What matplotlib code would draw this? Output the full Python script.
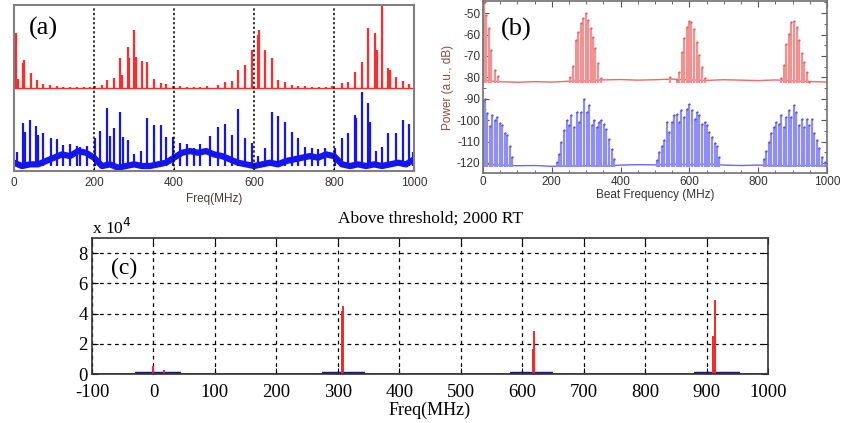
import numpy as np
import matplotlib
matplotlib.use("Agg")
import matplotlib.pyplot as plt
from matplotlib.ticker import MultipleLocator

plt.rcParams['axes.unicode_minus'] = False

# ---- panel (a): comb spectra, arbitrary units ----
red_a_freq = [5, 11, 22, 26, 42, 57, 73, 90, 107, 123, 140, 157, 174, 190, 203,
              219, 233, 251, 266, 271, 284, 288, 301, 305, 319, 333, 350, 367,
              381, 398, 415, 432, 449, 466, 483, 510, 527, 544, 561, 577, 594,
              609, 613, 627, 644, 661, 677, 694, 711, 728, 745, 762, 779, 796,
              819, 836, 852, 869, 886, 902, 907, 921, 936, 940, 954, 972, 988]
red_a_peak = [82.9, 55.7, 64.8, 66.8, 58.8, 54.7, 52.3, 51.7, 51.0, 50.8, 50.7,
              50.7, 50.6, 50.8, 51.0, 52.0, 55.0, 56.0, 68.0, 58.0, 74.8, 67.8,
              84.9, 68.8, 66.4, 65.4, 55.7, 53.3, 52.3, 51.5, 51.0, 50.8, 50.8,
              50.8, 51.0, 52.0, 53.8, 54.2, 60.9, 63.9, 72.9, 81.9, 84.9, 72.9,
              67.9, 54.8, 53.8, 51.8, 51.2, 51.0, 50.8, 50.8, 50.8, 51.0, 53.2,
              53.8, 59.8, 65.9, 85.9, 82.9, 72.9, 99.9, 61.9, 60.9, 56.5, 54.4,
              52.4]
red_a_base = 49.7

blue_a_freq = [7, 23, 27, 40, 55, 59, 73, 92, 108, 123, 140, 157, 165, 182, 202,
               215, 233, 240, 251, 266, 273, 284, 300, 318, 333, 350, 367, 381,
               398, 415, 432, 449, 466, 491, 510, 527, 544, 561, 577, 594, 610,
               627, 644, 661, 677, 694, 711, 727, 744, 760, 777, 803, 821, 836,
               852, 856, 869, 886, 890, 904, 921, 936, 954, 972, 988, 998]
blue_a_peak = [11.5, 29, 23.5, 31, 27, 21.5, 23, 20, 19, 15.5, 16, 15, 14.5, 15,
               20, 24, 38, 21, 26, 35.6, 20.5, 18.5, 10, 12, 32, 28, 28, 20.5,
               20.5, 17, 16, 14, 16, 21, 26.5, 28.3, 21.7, 37.2, 19.7, 16.7, 9,
               14, 35.8, 33.2, 29.8, 23.7, 19.7, 14.7, 14, 13, 14, 14, 19.7,
               23.1, 33.7, 31.7, 47.3, 40.8, 29.8, 12, 14.7, 22.7, 22.7, 30.8,
               28.3, 11.7]
# noise floor of the blue trace, read every 20 MHz
blue_a_noise = [5, 3, 4, 4, 6, 8, 10, 9, 12, 11, 8, 3, 4, 2, 3, 4, 3, 3, 4, 5,
                8, 11, 12, 11, 12, 10, 9, 7, 5, 4, 3, 4, 5, 4, 6, 7, 8, 9, 8,
                10, 9, 4, 3, 4, 3, 4, 3, 4, 5, 4, 7]

# ---- panel (b): beat spectra in dB ----
red_b_freq = [0, 3, 10, 16, 24, 34, 44,
              252, 262, 270, 277, 284, 291, 299, 306, 314, 320, 327, 335, 342,
              545, 563, 571, 578, 584, 592, 600, 606, 613, 621, 629, 636, 644,
              866, 874, 882, 889, 896, 904, 912, 918, 926, 933, 941, 948]
red_b_peak = [-44.5, -45.3, -50.8, -57.0, -67.0, -76.4, -79.5,
              -79.6, -74.9, -62.4, -58.6, -54.7, -52.3, -50.0, -53.1, -57.0,
              -60.9, -66.3, -73.3, -80.3,
              -80.0, -81.3, -77.4, -68.0, -61.8, -56.4, -53.6, -54.1, -57.2,
              -63.4, -69.6, -75.0, -80.5,
              -80.5, -74.3, -64.2, -59.5, -54.1, -53.6, -56.4, -62.6, -68.8,
              -72.7, -77.4, -82.0]
red_b_base = [-81.5, -82.0, -82.3, -82.0, -82.2, -81.8, -81.6, -81.2, -81.0,
              -81.3, -81.1, -80.8, -81.2, -81.4, -81.1, -81.3, -81.5, -81.2,
              -81.6, -81.9, -82.2]

blue_b_freq = [0, 5, 12, 19, 27, 34, 41, 49, 56, 63, 70, 78, 85,
               214, 221, 228, 235, 243, 250, 257, 265, 272, 280, 286, 293, 301,
               309, 316, 322, 330, 338, 344, 352, 359, 367, 374, 382,
               505, 512, 519, 526, 534, 541, 548, 555, 563, 570, 577, 584, 592,
               600, 607, 615, 621, 629, 636, 644, 651, 658, 665, 673, 680, 687,
               816, 823, 830, 838, 845, 852, 860, 867, 874, 882, 889, 896, 904,
               911, 918, 926, 933, 941, 948, 955, 962, 970, 977, 985, 993]
blue_b_peak = [-91, -90, -96.7, -102.9, -97.5, -99.8, -98.3, -101.4, -102.2,
               -106.0, -106.9, -112.3, -117.0,
               -119.4, -115.6, -110.1, -104.7, -100.0, -102.3, -97.7, -103.1,
               -96.1, -100.8, -96.1, -89.9, -96.1, -93.0, -102.3, -100.0,
               -103.1, -100.8, -100.0, -101.6, -103.9, -108.6, -113.3, -118.0,
               -118.4, -115.0, -112.3, -109.2, -100.8, -105.4, -100.8, -97.7,
               -96.9, -100.8, -95.4, -98.5, -94.6, -92.3, -95.4, -99.3, -96.2,
               -97.7, -101.6, -100.8, -102.3, -105.4, -107.7, -110.8, -112.3,
               -117.0,
               -118.0, -114.6, -110.0, -106.1, -103.0, -100.8, -101.6, -97.7,
               -103.0, -98.5, -95.4, -98.5, -93.0, -96.2, -102.3, -99.3,
               -103.0, -99.3, -102.3, -99.3, -106.1, -109.2, -113.1, -117.0,
               -119.4]
blue_b_base = [-120.5, -121.0, -121.3, -121.2, -121.6, -121.4, -121.3, -121.5,
               -121.0, -120.8, -120.9, -120.6, -120.8, -120.5, -121.0, -121.2,
               -121.0, -121.3, -121.4, -121.0, -121.5]

# ---- panel (c): above threshold, 2000 RT (x 1e4) ----
red_c_freq = [0, 17, 306, 309, 617, 620, 911, 913]
red_c_peak = [0.5, 0.25, 4.2, 4.5, 1.65, 2.85, 2.5, 4.9]
blue_c_freq = [-100, 1000]
blue_c_level = [0, 0]
dark_c_start = [-30, 275, 580, 880]
dark_c_stop = [45, 345, 650, 955]

W, H = 846, 423
fig = plt.figure(figsize=(W / 100, H / 100), dpi=100)


def box(l, t, r, b):
    return [l / W, 1 - b / H, (r - l) / W, (b - t) / H]


sans = 'Liberation Sans'
serif = 'Liberation Serif'

# panel (a)
ax = fig.add_axes(box(14, 5, 414, 171))
ax.plot(np.arange(0, 1001, 20), blue_a_noise, color='#1515f0', lw=4.5)
ax.vlines(blue_a_freq, 3, blue_a_peak, color='#1515f0', lw=1.6)
ax.plot([0, 1000], [red_a_base, red_a_base], color='#ff2a2a', lw=1.0)
ax.vlines(red_a_freq, red_a_base, red_a_peak, color='#ff2a2a', lw=1.6)
ax.set_xlim(0, 1000)
ax.set_ylim(0, 100)
ax.set_xticks(range(0, 1001, 200))
ax.set_yticks([])
for v in range(200, 1000, 200):
    ax.axvline(v, color='k', lw=1.1, ls=(0, (1.5, 1.5)))
ax.tick_params(axis='x', direction='in', length=3, labelsize=8.5,
               labelcolor='#3a3030', pad=4)
for s in ax.spines.values():
    s.set_color('#808080')
    s.set_linewidth(1.5)
for lab in ax.get_xticklabels():
    lab.set_fontfamily(sans)
ax.set_xlabel('Freq(MHz)', fontsize=8.5, family=sans, color='#4d3b30',
              labelpad=3)

# panel (b)
bx = fig.add_axes(box(483, 1, 827, 173))
bx.plot(np.arange(0, 1001, 50), red_b_base, color='#f06868', lw=1.0)
bx.vlines(red_b_freq, -82.5, red_b_peak, color='#f39090', lw=1.6)
bx.plot(red_b_freq, red_b_peak, '.', color='#e06060', ms=1.2)
bx.plot(np.arange(0, 1001, 50), blue_b_base, color='#6a6af0', lw=1.0)
bx.vlines(blue_b_freq, -122, blue_b_peak, color='#8e8ef4', lw=1.6)
bx.plot(blue_b_freq, blue_b_peak, '.', color='#5050dd', ms=1.2)
bx.set_xlim(0, 1000)
bx.set_ylim(-124.7, -44.3)
bx.xaxis.set_major_locator(MultipleLocator(200))
bx.xaxis.set_minor_locator(MultipleLocator(50))
bx.yaxis.set_major_locator(MultipleLocator(10))
bx.yaxis.set_minor_locator(MultipleLocator(5))
bx.tick_params(which='both', direction='in', top=True, right=True,
               color='#555555', labelsize=8.5, labelcolor='#333333')
bx.tick_params(which='major', length=4, pad=2)
bx.tick_params(which='minor', length=2.5)
for lab in bx.get_xticklabels() + bx.get_yticklabels():
    lab.set_fontfamily(sans)
for s in bx.spines.values():
    s.set_color('#707070')
    s.set_linewidth(1.2)
bx.set_xlabel('Beat Frequency (MHz)', fontsize=8.5, family=sans,
              color='#333333', labelpad=1)
bx.set_ylabel('Power (a.u., dB)', fontsize=8.5, family=sans,
              color='#8b4a3c', labelpad=2)

# panel (c)
cx = fig.add_axes(box(92, 238, 768, 374))
cx.plot(blue_c_freq, blue_c_level, color='#5a5aff', lw=2.2)
cx.hlines([0] * 4, dark_c_start, dark_c_stop, color='#1c1c70', lw=3.2)
cx.vlines(red_c_freq, 0, red_c_peak, color='#ff2020', lw=1.4)
cx.set_xlim(-100, 1000)
cx.set_ylim(0, 9)
cx.set_xticks(range(-100, 1001, 100))
cx.set_yticks(range(0, 9, 2))
cx.grid(True, color='k', lw=0.9, ls=(0, (3, 3)))
cx.set_axisbelow(True)
cx.tick_params(direction='in', top=True, right=True, length=4,
               labelsize=13.5)
cx.tick_params(axis='x', pad=7)
cx.tick_params(axis='y', pad=3)
for lab in cx.get_xticklabels() + cx.get_yticklabels():
    lab.set_fontfamily(serif)
for s in cx.spines.values():
    s.set_color('#333333')
    s.set_linewidth(1.2)
cx.set_xlabel('Freq(MHz)', fontsize=13, family=serif, labelpad=1)

fig.text(92 / W, 1 - 228 / H, r'x 10$^4$', fontsize=12.5, family=serif,
         ha='left', va='center')
fig.text(430 / W, 1 - 219 / H, 'Above threshold; 2000 RT', fontsize=12.5,
         family=serif, ha='center', va='center')

# panel letters
fig.text(43 / W, 1 - 28 / H, '(a)', fontsize=19, family=serif,
         ha='center', va='center')
fig.text(516 / W, 1 - 29 / H, '(b)', fontsize=19, family=serif,
         ha='center', va='center')
fig.text(124 / W, 1 - 268 / H, '(c)', fontsize=17, family=serif,
         ha='center', va='center')

fig.savefig('out.png', dpi=100)
